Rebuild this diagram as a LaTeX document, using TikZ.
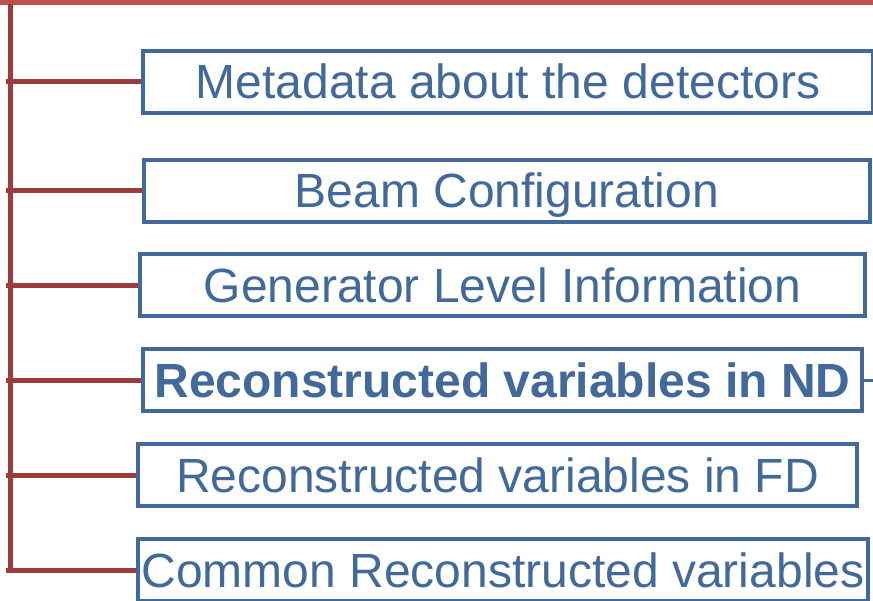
\documentclass[tikz,border=0pt]{standalone}
\usepackage{fontspec}
\setmainfont{Liberation Sans}
\usepackage{tikz}

\definecolor{boxblue}{HTML}{41699B}
\definecolor{topred}{HTML}{C0504D}
\definecolor{branchred}{HTML}{9B3C3B}

\tikzset{
  itembox/.style={draw=boxblue, line width=4pt, text=boxblue, inner sep=0pt,
    minimum height=62pt, text height=34pt, text depth=0pt,
    font=\fontsize{48}{52}\selectfont},
  branch/.style={draw=branchred, line width=5pt}
}

\begin{document}
\begin{tikzpicture}[x=1pt, y=-1pt]
  \useasboundingbox (0,0) rectangle (873,600);

  % Linea superior
  \draw[topred, line width=5pt] (0,2.5) -- (873,2.5);

  % Cajas
  \node[itembox, minimum width=730pt] (meta) at (508,81.5) {Metadata about the detectors};
  \node[itembox, minimum width=726pt] (beam) at (507,190.5) {Beam Configuration};
  \node[itembox, minimum width=725pt] (gen) at (502.5,285) {Generator Level Information};
  \node[itembox, minimum width=719pt] (recnd) at (502.5,380) {\bfseries Reconstructed variables in ND};
  \node[itembox, minimum width=719pt] (recfd) at (497.5,475) {Reconstructed variables in FD};
  \node[itembox, minimum width=730pt] (common) at (503,570) {Common Reconstructed variables};

  % Tronco vertical
  \coordinate (top) at (10,4);
  \coordinate (bottom) at (10,568);
  \draw[branch] (top) -- (bottom);

  % Ramas
  \foreach \n in {meta, beam, gen, recnd, recfd, common}
    \draw[branch] (6,0 |- \n.west) -- (\n.west);

  % Salida de la caja ND
  \coordinate (ndout) at (873,380);
  \draw[boxblue, line width=3pt] (recnd.east) -- (ndout);
\end{tikzpicture}
\end{document}
